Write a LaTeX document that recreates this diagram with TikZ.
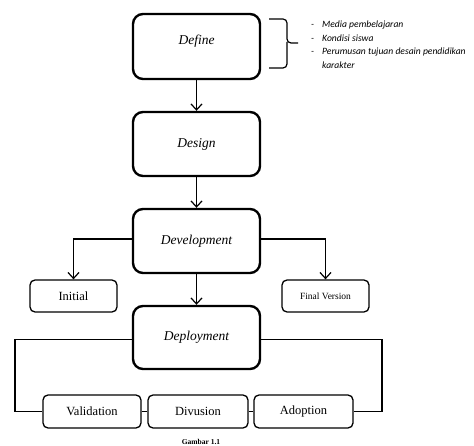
\documentclass[tikz,border=0pt]{standalone}
\usepackage{fontspec}
\setmainfont{Liberation Serif}
\newfontfamily\notefont{Carlito}
\usetikzlibrary{arrows.meta}
\begin{document}
\begin{tikzpicture}[x=1pt,y=-1pt,
  bigbox/.style={draw, line width=2.4pt, rounded corners=10pt, minimum width=127pt, minimum height=64pt, inner sep=0pt, font=\itshape\fontsize{13.5}{15}\selectfont},
  smallbox/.style={draw, line width=1.3pt, rounded corners=5pt, minimum height=33pt, inner sep=0pt, font=\fontsize{12.5}{14}\selectfont},
  conn/.style={line width=1.2pt},
  arr/.style={conn, -{Straight Barb[length=6pt,width=11pt,line width=1.2pt]}},
  note/.style={anchor=base west, inner sep=0pt, font=\notefont\itshape\fontsize{9.6}{10}\selectfont}
]
\useasboundingbox (0,0) rectangle (474,446);
% main boxes
\node[bigbox, minimum height=65pt, text depth=14pt] (define) at (196.5,46.5) {Define};
\node[bigbox] (design) at (196.5,144) {Design};
\node[bigbox] (devel) at (196.5,241) {Development};
\node[bigbox, minimum height=63pt] (deploy) at (196.5,337.5) {Deployment};
% small boxes
\node[smallbox, minimum width=87pt, minimum height=32pt] (initial) at (73.5,296) {Initial};
\node[smallbox, minimum width=87pt, minimum height=32pt, font=\fontsize{9.5}{11}\selectfont] (final) at (325.5,296) {Final Version};
\node[smallbox, minimum width=98pt] (valid) at (92,411.5) {Validation};
\node[smallbox, minimum width=100pt] (divus) at (198,411.5) {Divusion};
\node[smallbox, minimum width=99pt] (adopt) at (303.5,411.5) {Adoption};
% connectors
\draw[arr] (define) -- (design);
\draw[arr] (design) -- (devel);
\draw[arr] (devel) -- (deploy);
\draw[arr] ([yshift=2pt]devel.west) -| (initial.north);
\draw[arr] ([yshift=2pt]devel.east) -| (final.north);
\coordinate (lx) at (15,0);
\coordinate (rx) at (382,0);
\draw[conn] ([yshift=-2pt]deploy.west) -- ([yshift=-2pt]deploy.west -| lx) |- (valid.west);
\draw[conn] ([yshift=-2pt]deploy.east) -- ([yshift=-2pt]deploy.east -| rx) |- (adopt.east);
\draw[conn] (valid) -- (divus);
\draw[conn] (divus) -- (adopt);
% brace
\draw[line width=1.2pt, rounded corners=4pt] (269,19) -- (287,19) -- (287,43) -- (298,43);
\draw[line width=1.2pt, rounded corners=4pt] (287,42) -- (287,68) -- (269,68);
% notes
\node[note] (d1) at (311,28) {-};
\node[note] (n1) at (322,28) {Media pembelajaran};
\node[note] (d2) at (311,41.5) {-};
\node[note] (n2) at (322,41.5) {Kondisi siswa};
\node[note] (d3) at (311,55) {-};
\node[note] (n3) at (322,55) {Perumusan tujuan desain pendidikan};
\node[note] (n4) at (322,68.5) {karakter};
% caption
\node[font=\bfseries\fontsize{7.5}{9}\selectfont, inner sep=0pt] (cap) at (201,442) {Gambar 1.1};
\end{tikzpicture}
\end{document}
